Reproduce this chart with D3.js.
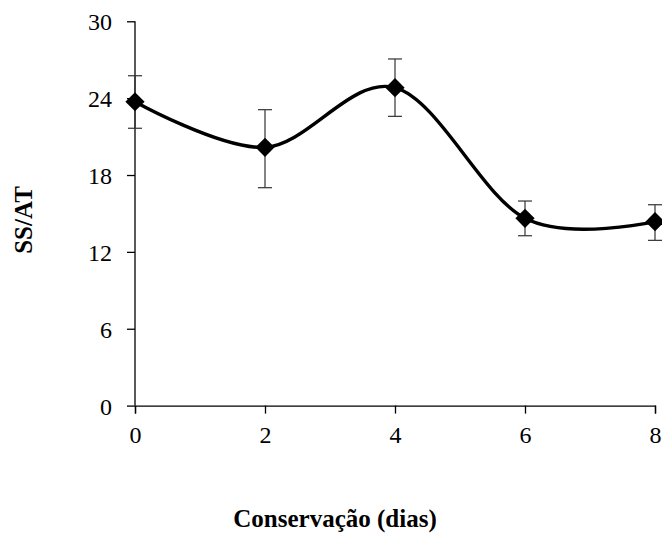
<!DOCTYPE html>
<html><head><meta charset="utf-8">
<script src="https://cdn.jsdelivr.net/npm/d3@7"></script>
<style>body{margin:0;background:#fff}</style>
</head><body>
<svg id="c" width="662" height="543"></svg>
<script>
const days = [0, 2, 4, 6, 8];
const ssat = [23.72, 20.16, 24.82, 14.62, 14.36];
const errUpper = [25.75, 23.10, 27.06, 15.97, 15.68];
const errLower = [21.65, 17.01, 22.58, 13.26, 12.90];
const xTicks = [0, 2, 4, 6, 8];
const yTicks = [0, 6, 12, 18, 24, 30];
const xTitle = "Conservação (dias)";
const yTitle = "SS/AT";

const svg = d3.select("#c");
const x = d3.scaleLinear().domain([0, 8]).range([135, 655]);
const y = d3.scaleLinear().domain([0, 30]).range([405.6, 21.3]);
const font = "'Liberation Serif','Times New Roman',serif";

const ya = svg.append("g").attr("transform", "translate(135,0)")
  .call(d3.axisLeft(y).tickValues(yTicks).tickSize(8).tickPadding(15));
const xa = svg.append("g").attr("transform", "translate(0,405.6)")
  .call(d3.axisBottom(x).tickValues(xTicks).tickSize(8).tickPadding(12));
[ya, xa].forEach(a => {
  a.select(".domain").attr("stroke", "#000").attr("stroke-width", 1.3);
  a.selectAll(".tick line").attr("stroke", "#000").attr("stroke-width", 1.3);
  a.selectAll("text").attr("font-family", font).attr("font-size", 24).attr("fill", "#000");
});
ya.select(".domain").attr("d", `M-0,${y(30)}V${y(0)}`);
ya.selectAll(".tick text").attr("dy", "0.35em");

const data = days.map((d, i) => ({x: d, y: ssat[i], hi: errUpper[i], lo: errLower[i]}));

// error bars
const eb = svg.append("g").attr("stroke", "#333").attr("stroke-width", 1.2);
data.forEach(d => {
  eb.append("line").attr("x1", x(d.x)).attr("x2", x(d.x)).attr("y1", y(d.hi)).attr("y2", y(d.lo));
  eb.append("line").attr("x1", x(d.x) - 7).attr("x2", x(d.x) + 7).attr("y1", y(d.hi)).attr("y2", y(d.hi));
  eb.append("line").attr("x1", x(d.x) - 7).attr("x2", x(d.x) + 7).attr("y1", y(d.lo)).attr("y2", y(d.lo));
});

const line = d3.line().x(d => x(d.x)).y(d => y(d.y)).curve(d3.curveCardinal.tension(0));
svg.append("path").datum(data).attr("d", line).attr("fill", "none")
  .attr("stroke", "#000").attr("stroke-width", 3.4);

svg.append("g").selectAll("path").data(data).join("path")
  .attr("d", d3.symbol().type(d3.symbolSquare).size(185))
  .attr("transform", d => `translate(${x(d.x)},${y(d.y)}) rotate(45)`)
  .attr("fill", "#000");

svg.append("text").attr("x", 335).attr("y", 527).attr("text-anchor", "middle")
  .attr("font-family", font).attr("font-weight", "bold").attr("font-size", 25).text(xTitle);
svg.append("text").attr("transform", "translate(32,220) rotate(-90)").attr("text-anchor", "middle")
  .attr("font-family", font).attr("font-weight", "bold").attr("font-size", 25).text(yTitle);
</script>
</body></html>
